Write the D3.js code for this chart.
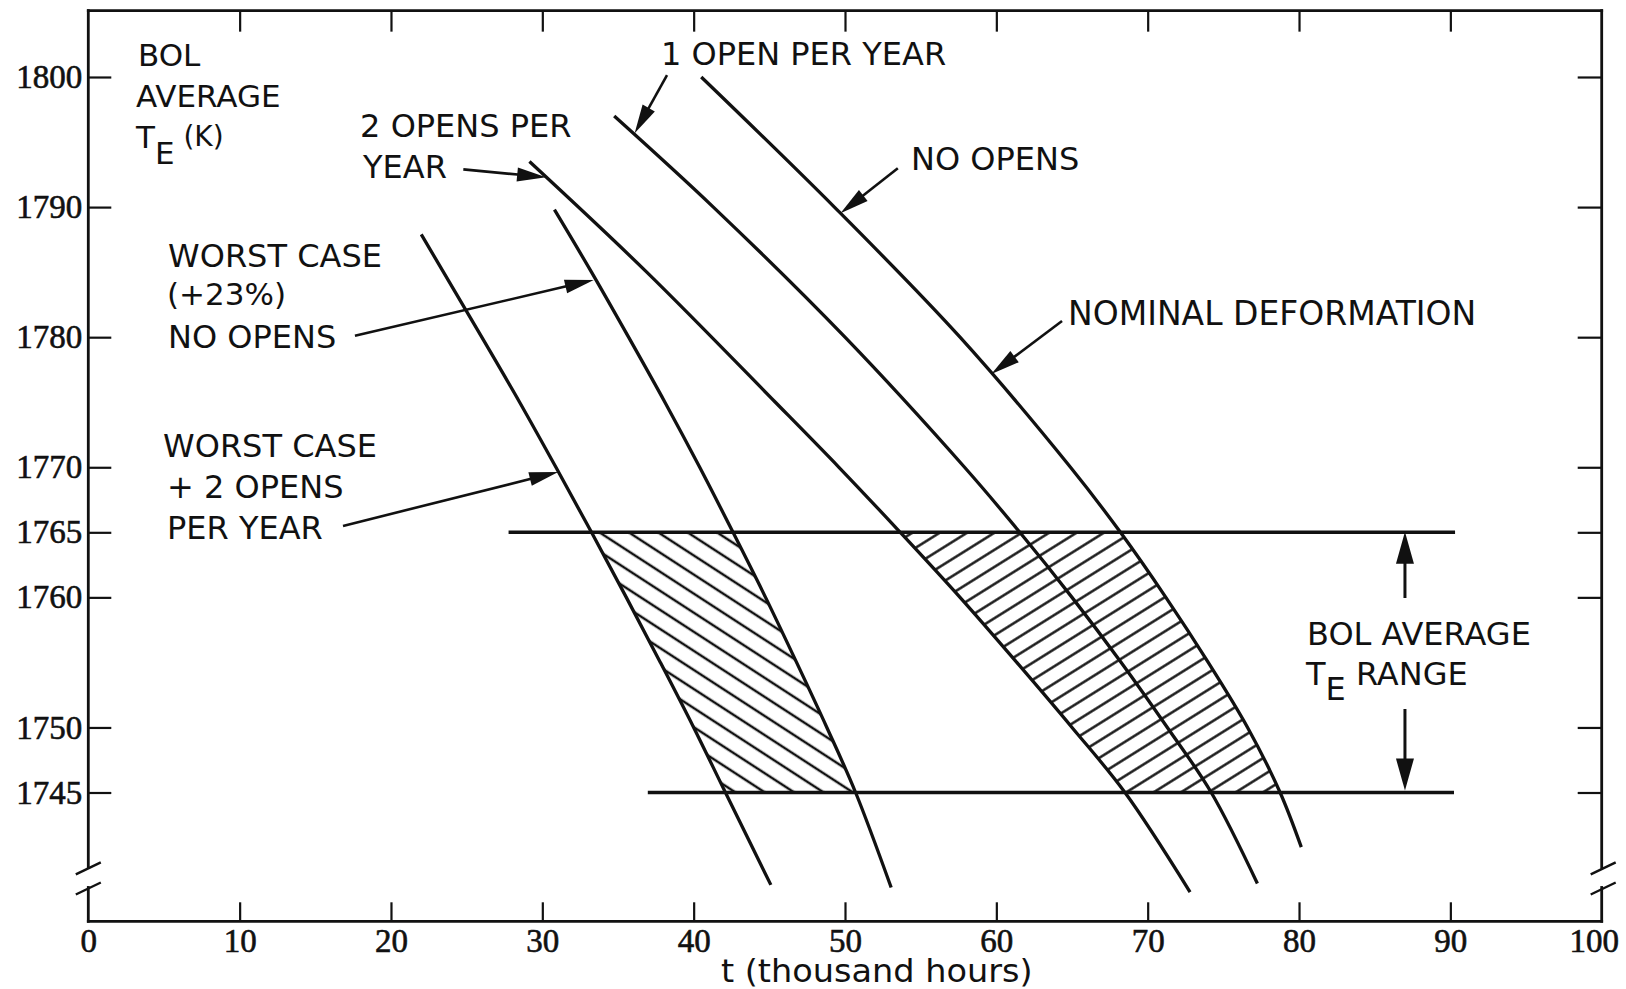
<!DOCTYPE html>
<html><head><meta charset="utf-8">
<script src="https://cdn.jsdelivr.net/npm/d3@7"></script>
<style>body{margin:0;background:#fff}svg{display:block}</style>
</head><body><svg id="c" width="1626" height="989"></svg>
<script>
// ---------------- data ----------------
const xTicks = [0,10,20,30,40,50,60,70,80,90,100];
const yTicks = [1745,1750,1760,1765,1770,1780,1790,1800];
// [t (thousand hours), BOL average T_E (K)]
const noOpens       = [[40.5,1800],[49.3,1790],[57.6,1780],[64.9,1770],[68.2,1765],[71.2,1760],[74.0,1755],[76.6,1750],[78.75,1745],[80.15,1740.8]];
const oneOpen       = [[34.75,1797],[41.3,1790],[50.0,1780],[57.9,1770],[61.55,1765],[65.0,1760],[68.25,1755],[71.3,1750],[74.2,1745],[77.25,1738]];
const twoOpens      = [[29.15,1793.5],[36.9,1785],[45.4,1775],[49.6,1770],[53.65,1765],[57.6,1760],[61.35,1755],[65.0,1750],[68.5,1745],[72.8,1737.35]];
const worstNoOpens  = [[30.8,1789.8],[33.25,1785],[35.7,1780],[38.1,1775],[40.4,1770],[42.6,1765],[44.75,1760],[46.8,1755],[48.8,1750],[50.7,1745],[53.05,1737.7]];
const worstTwoOpens = [[22.0,1787.9],[26.0,1780],[28.5,1775],[30.9,1770],[33.25,1765],[35.55,1760],[37.8,1755],[40.0,1750],[42.1,1745],[45.1,1737.9]];
const rangeLimits = [1765, 1745];
const rangeSpans  = [[27.77,90.31],[36.97,90.24]];

// axis frame values
const frameTop = 1805.1, frameBottom = 1735.1, breakHi = 1739.25, breakLo = 1737.7;

// annotations (data coordinates)
const labels = [
  {t:"BOL", x:3.28, y:1800.85, fs:31},
  {t:"AVERAGE", x:3.15, y:1797.69, fs:31},
  {t:"1 OPEN PER YEAR", x:37.84, y:1800.92, fs:32},
  {t:"2 OPENS PER", x:17.96, y:1795.39, fs:32},
  {t:"YEAR", x:18.15, y:1792.24, fs:32},
  {t:"NO OPENS", x:54.36, y:1792.85, fs:32},
  {t:"WORST CASE", x:5.27, y:1785.39, fs:32},
  {t:"(+23%)", x:5.2, y:1782.5, fs:31},
  {t:"NO OPENS", x:5.27, y:1779.17, fs:32},
  {t:"WORST CASE", x:4.94, y:1770.79, fs:32},
  {t:"+ 2 OPENS", x:5.2, y:1767.64, fs:32},
  {t:"PER YEAR", x:5.2, y:1764.49, fs:32},
  {t:"NOMINAL DEFORMATION", x:64.74, y:1780.94, fs:33},
  {t:"BOL AVERAGE", x:80.53, y:1756.34, fs:32}
];
const arrows = [
  {from:[38.24,1800.15], to:[36.1,1795.67]},
  {from:[53.49,1792.98], to:[49.7,1789.52]},
  {from:[24.78,1792.9],  to:[30.25,1792.29]},
  {from:[17.62,1780.11], to:[33.4,1784.4]},
  {from:[16.83,1765.49], to:[31.05,1769.64]},
  {from:[64.34,1781.24], to:[59.67,1777.17]},
  {from:[87.0,1759.95],  to:[87.0,1765.05], big:true},
  {from:[87.0,1751.42],  to:[87.0,1745.15], big:true}
];

// ---------------- drawing ----------------
const svg = d3.select("#c");
svg.append("rect").attr("width",1626).attr("height",989).attr("fill","#fff");
const x = d3.scaleLinear().domain([0,100]).range([88.3,1601.7]);
const y = d3.scaleLinear().domain([1745,1800]).range([792.5,77]);
const INK = "#111";
const FONT = "'DejaVu Sans', sans-serif";
const NUMFONT = "'Liberation Serif', serif";

const defs = svg.append("defs");
function hatch(id, angle, gap, sw){
  const p = defs.append("pattern").attr("id",id).attr("patternUnits","userSpaceOnUse")
    .attr("width",gap).attr("height",gap).attr("patternTransform",`rotate(${angle})`);
  p.append("rect").attr("width",gap).attr("height",gap).attr("fill","#fff");
  p.append("line").attr("x1",-1).attr("x2",gap+1).attr("y1",gap/2).attr("y2",gap/2)
    .attr("stroke",INK).attr("stroke-width",sw);
}
hatch("hL", 33, 16, 2.5);
hatch("hR", -32, 14.5, 2.4);
defs.append("clipPath").attr("id","band").append("rect")
  .attr("x",x(0)).attr("width",x(100)-x(0))
  .attr("y",y(rangeLimits[0])).attr("height",y(rangeLimits[1])-y(rangeLimits[0]));

const line = d3.line().x(d=>x(d[0])).y(d=>y(d[1])).curve(d3.curveCatmullRom.alpha(0.5));
function region(left,right){
  const a = line(left), b = line(right.slice().reverse());
  return a + "L" + b.slice(1) + "Z";
}
svg.append("path").attr("d",region(worstTwoOpens,worstNoOpens)).attr("fill","url(#hL)").attr("clip-path","url(#band)");
svg.append("path").attr("d",region(twoOpens,noOpens)).attr("fill","url(#hR)").attr("clip-path","url(#band)");

// axes
const axStyle = g => { g.select(".domain").remove();
  g.selectAll(".tick line").attr("stroke",INK).attr("stroke-width",2.2);
  g.selectAll(".tick text").attr("fill",INK).attr("font-family",NUMFONT).attr("font-size",33)
   .attr("stroke",INK).attr("stroke-width",0.6); };
svg.append("g").attr("transform",`translate(${x(0)},0)`)
  .call(d3.axisLeft(y).tickValues(yTicks).tickSizeInner(-23).tickSizeOuter(0).tickPadding(6).tickFormat(d3.format("d")))
  .call(axStyle);
svg.append("g").attr("transform",`translate(${x(100)},0)`)
  .call(d3.axisRight(y).tickValues(yTicks).tickSizeInner(-24).tickSizeOuter(0).tickFormat(""))
  .call(axStyle);
const bx = svg.append("g").attr("transform",`translate(0,${y(frameBottom)})`)
  .call(d3.axisBottom(x).tickValues(xTicks).tickSizeInner(-19).tickSizeOuter(0).tickPadding(7).tickFormat(d3.format("d")))
  .call(axStyle);
bx.selectAll(".tick").filter(d=>d===0||d===100).select("line").remove();
bx.selectAll(".tick text").filter(d=>d===100).attr("dx",-8);
svg.append("g").attr("transform",`translate(0,${y(frameTop)})`)
  .call(d3.axisTop(x).tickValues(xTicks.slice(1,-1)).tickSizeInner(-21).tickSizeOuter(0).tickFormat(""))
  .call(axStyle);

// frame lines
const frame = svg.append("g").attr("stroke",INK).attr("stroke-width",2.8).attr("fill","none").attr("stroke-linecap","square");
frame.append("line").attr("x1",x(0)).attr("x2",x(100)).attr("y1",y(frameTop)).attr("y2",y(frameTop));
frame.append("line").attr("x1",x(0)).attr("x2",x(100)).attr("y1",y(frameBottom)).attr("y2",y(frameBottom));
[0,100].forEach(v=>{
  frame.append("line").attr("x1",x(v)).attr("x2",x(v)).attr("y1",y(frameTop)).attr("y2",y(breakHi));
  frame.append("line").attr("x1",x(v)).attr("x2",x(v)).attr("y1",y(breakLo)).attr("y2",y(frameBottom));
  [breakHi, breakLo].forEach(b=>{
    const cx = x(v)+ (v===100?1.5:0), cy = y(b)+1;
    frame.append("line").attr("stroke-width",2.4).attr("stroke-linecap","butt")
      .attr("x1",cx-12.5).attr("y1",cy+6).attr("x2",cx+12.5).attr("y2",cy-6);
  });
});

// curves
[noOpens, oneOpen, twoOpens, worstNoOpens, worstTwoOpens].forEach(c=>{
  svg.append("path").attr("d",line(c)).attr("fill","none").attr("stroke",INK).attr("stroke-width",3.3);
});
// range limit lines
rangeLimits.forEach((v,i)=>{
  svg.append("line").attr("x1",x(rangeSpans[i][0])).attr("x2",x(rangeSpans[i][1]))
    .attr("y1",y(v)).attr("y2",y(v)).attr("stroke",INK).attr("stroke-width",3.4);
});

// arrows
arrows.forEach(a=>{
  const x1=x(a.from[0]), y1=y(a.from[1]), x2=x(a.to[0]), y2=y(a.to[1]);
  const dx=x2-x1, dy=y2-y1, L=Math.hypot(dx,dy), ux=dx/L, uy=dy/L;
  const len = a.big?32:29, hw = a.big?9:7;
  const bx0=x2-ux*len, by0=y2-uy*len;
  svg.append("line").attr("x1",x1).attr("y1",y1).attr("x2",bx0+ux*3).attr("y2",by0+uy*3)
    .attr("stroke",INK).attr("stroke-width",a.big?3:2.6);
  svg.append("path").attr("d",`M${x2},${y2}L${bx0-uy*hw},${by0+ux*hw}L${bx0+uy*hw},${by0-ux*hw}Z`).attr("fill",INK);
});

// labels
const tg = svg.append("g").attr("font-family",FONT).attr("fill",INK);
labels.forEach(l=>{
  tg.append("text").attr("x",x(l.x)).attr("y",y(l.y)).attr("font-size",l.fs).text(l.t);
});
// T_E (K)
const t1 = tg.append("text").attr("x",x(3.15)).attr("y",y(1794.54)).attr("font-size",31);
t1.append("tspan").text("T");
t1.append("tspan").attr("dy",16).text("E");
t1.append("tspan").attr("dy",-18).attr("font-size",28).text(" (K)");
// T_E RANGE
const t2 = tg.append("text").attr("x",x(80.46)).attr("y",y(1753.26)).attr("font-size",32);
t2.append("tspan").text("T");
t2.append("tspan").attr("dy",15).text("E");
t2.append("tspan").attr("dy",-15).text(" RANGE");
// x axis title
tg.append("text").attr("x",x(41.8)).attr("y",y(1730.4)).attr("font-size",32)
  .attr("textLength",x(62.4)-x(41.8)).attr("lengthAdjust","spacingAndGlyphs").text("t (thousand hours)");
</script></body></html>
